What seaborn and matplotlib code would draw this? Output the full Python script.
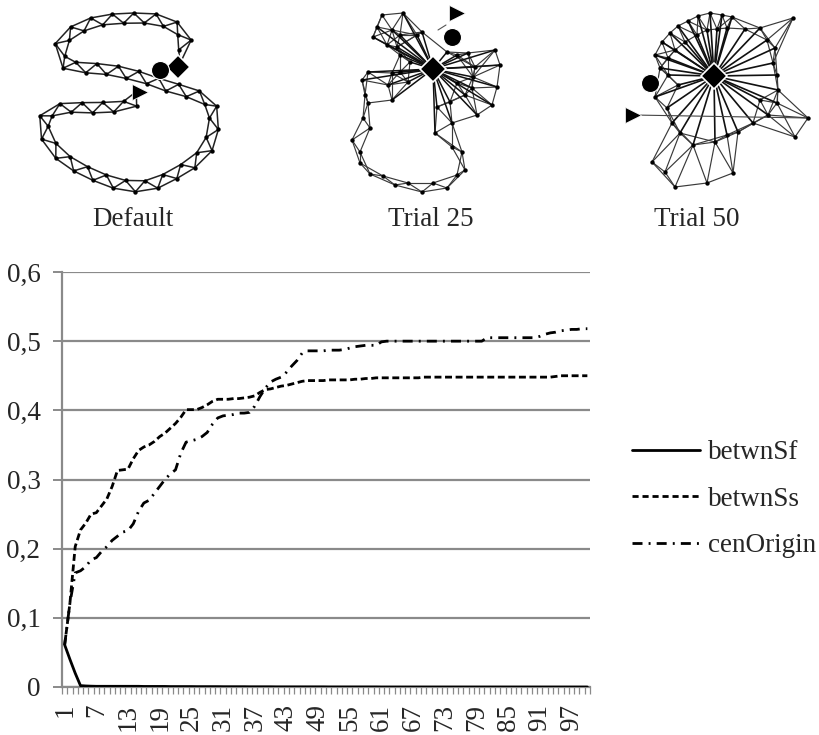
import numpy as np
import pandas as pd
import matplotlib
matplotlib.use("Agg")
import matplotlib.pyplot as plt
import seaborn as sns
from matplotlib.lines import Line2D

# ---------------- chart data ----------------
trials = list(range(1, 101))

betwnSf = [
    0.061, 0.040, 0.020, 0.002, 0.0015, 0.0012, 0.001, 0.001, 0.001, 0.001,
    0.001, 0.001, 0.001, 0.001, 0.001, 0.0008, 0.0008, 0.0008, 0.0008, 0.0008,
    0.0006, 0.0006, 0.0006, 0.0006, 0.0006, 0.0005, 0.0005, 0.0005, 0.0005, 0.0005,
    0.0004, 0.0004, 0.0004, 0.0004, 0.0004, 0.0003, 0.0003, 0.0003, 0.0003, 0.0003,
    0.0002, 0.0002, 0.0002, 0.0002, 0.0002, 0.0002, 0.0002, 0.0002, 0.0002, 0.0002,
    0.0001, 0.0001, 0.0001, 0.0001, 0.0001, 0.0001, 0.0001, 0.0001, 0.0001, 0.0001,
    0.0, 0.0, 0.0, 0.0, 0.0, 0.0, 0.0, 0.0, 0.0, 0.0,
    0.0, 0.0, 0.0, 0.0, 0.0, 0.0, 0.0, 0.0, 0.0, 0.0,
    0.0, 0.0, 0.0, 0.0, 0.0, 0.0, 0.0, 0.0, 0.0, 0.0,
    0.0, 0.0, 0.0, 0.0, 0.0, 0.0, 0.0, 0.0, 0.0, 0.0,
]

betwnSs = [
    0.061, 0.121, 0.203, 0.227, 0.237, 0.250, 0.252, 0.262, 0.272, 0.290,
    0.313, 0.314, 0.315, 0.330, 0.342, 0.347, 0.350, 0.355, 0.362, 0.367,
    0.374, 0.381, 0.390, 0.401, 0.401, 0.401, 0.404, 0.408, 0.413, 0.416,
    0.416, 0.416, 0.417, 0.417, 0.418, 0.419, 0.421, 0.426, 0.430, 0.431,
    0.433, 0.435, 0.436, 0.438, 0.440, 0.442, 0.443, 0.443, 0.443, 0.443,
    0.444, 0.444, 0.444, 0.444, 0.444, 0.445, 0.445, 0.446, 0.446, 0.447,
    0.447, 0.447, 0.447, 0.447, 0.447, 0.447, 0.447, 0.447, 0.448, 0.448,
    0.448, 0.448, 0.448, 0.448, 0.448, 0.448, 0.448, 0.448, 0.448, 0.448,
    0.448, 0.448, 0.448, 0.448, 0.448, 0.448, 0.448, 0.448, 0.448, 0.448,
    0.448, 0.448, 0.448, 0.449, 0.450, 0.450, 0.450, 0.450, 0.450, 0.450,
]

cenOrigin = [
    0.061, 0.121, 0.165, 0.168, 0.174, 0.184, 0.187, 0.196, 0.203, 0.212,
    0.218, 0.224, 0.226, 0.236, 0.254, 0.266, 0.270, 0.280, 0.290, 0.300,
    0.308, 0.314, 0.338, 0.354, 0.356, 0.358, 0.362, 0.368, 0.380, 0.389,
    0.392, 0.393, 0.394, 0.396, 0.396, 0.397, 0.406, 0.420, 0.432, 0.441,
    0.445, 0.448, 0.455, 0.464, 0.472, 0.483, 0.486, 0.486, 0.486, 0.486,
    0.487, 0.487, 0.487, 0.488, 0.490, 0.492, 0.493, 0.494, 0.494, 0.494,
    0.499, 0.500, 0.500, 0.500, 0.500, 0.500, 0.500, 0.500, 0.500, 0.500,
    0.500, 0.500, 0.500, 0.500, 0.500, 0.500, 0.500, 0.500, 0.500, 0.500,
    0.505, 0.505, 0.505, 0.505, 0.505, 0.505, 0.505, 0.505, 0.505, 0.505,
    0.507, 0.510, 0.512, 0.513, 0.515, 0.516, 0.517, 0.517, 0.518, 0.518,
]

series_names = ["betwnSf", "betwnSs", "cenOrigin"]
y_ticks = [0.0, 0.1, 0.2, 0.3, 0.4, 0.5, 0.6]
y_tick_labels = ["0", "0,1", "0,2", "0,3", "0,4", "0,5", "0,6"]
x_tick_values = list(range(1, 101, 6))
x_tick_labels = [str(v) for v in x_tick_values]
panel_titles = ["Default", "Trial 25", "Trial 50"]

# ---------------- network illustration data (pixel coords) ----------------
default_path = [
    (140, 95), (130, 106), (113, 107), (90, 108), (67, 107), (47, 112), (42, 123),
    (47, 140), (57, 153), (73, 165), (93, 175), (113, 183), (133, 187), (153, 185),
    (173, 175), (193, 163), (207, 150), (213, 133), (215, 113), (207, 100), (192, 93),
    (173, 88), (157, 83), (152, 80), (133, 75), (113, 70), (90, 68), (70, 67),
    (60, 60), (59, 47), (67, 35), (80, 27), (100, 20), (127, 18), (152, 18),
    (170, 23), (182, 32), (187, 43), (182, 55), (173, 63),
]
default_diamond = (178, 67)
default_circle = (160, 70)
default_triangle = (140, 92)

t25_nodes = [
    (382, 15), (403, 13), (377, 27), (373, 37), (392, 30), (400, 35), (417, 35),
    (422, 32), (397, 47), (400, 55), (410, 62), (387, 45),
    (368, 72), (362, 80), (392, 73), (400, 72), (408, 82), (365, 95), (388, 85),
    (392, 100), (368, 103),
    (447, 52), (457, 55), (468, 53), (495, 50), (500, 65), (475, 67), (473, 77),
    (497, 87), (472, 88), (492, 105), (477, 115), (465, 95), (450, 102), (437, 107),
    (452, 123), (457, 83),
    (435, 133), (452, 147), (462, 152), (465, 170), (457, 175), (447, 188),
    (433, 183), (422, 192), (408, 183), (395, 185), (383, 176), (370, 174),
    (360, 163), (360, 152), (352, 140), (370, 128), (363, 118),
]
t25_hub = (433, 69)
t25_circle = (452, 37)
t25_triangle = (457, 13)

t50_nodes = [
    (655, 55), (662, 42), (670, 33), (678, 26), (688, 21), (698, 16), (710, 13),
    (722, 15), (732, 17),
    (675, 50), (685, 42), (697, 35), (707, 30), (717, 29), (727, 28), (668, 58),
    (660, 68), (668, 75), (678, 85),
    (745, 29), (760, 28), (793, 18), (767, 40), (775, 48), (773, 63), (777, 75),
    (778, 90), (777, 103), (768, 115), (753, 123), (808, 118), (795, 137), (760, 100),
    (672, 123), (680, 133), (693, 145), (715, 142), (727, 135), (738, 132),
    (652, 162), (665, 172), (675, 187), (707, 183), (733, 173),
    (655, 97), (667, 108),
]
t50_hub = (714, 76)
t50_circle = (650, 83)
t50_triangle = (633, 115)

# ---------------- styling ----------------
sns.set_theme(style="white")
plt.rcParams["font.family"] = ["Liberation Serif", "DejaVu Serif"]
FS = 19.5
GRID = "#8a8a8a"

fig = plt.figure(figsize=(8.2, 7.35), dpi=100)

# ---------------- line chart ----------------
ax = fig.add_axes([62 / 820, 48 / 735, 528 / 820, 415 / 735])
df = pd.DataFrame({"trial": trials, "betwnSf": betwnSf,
                   "betwnSs": betwnSs, "cenOrigin": cenOrigin})
long = df.melt(id_vars="trial", var_name="series", value_name="value")
dash_map = {"betwnSf": "", "betwnSs": (2.5, 1.3), "cenOrigin": (3.6, 2.2, 0.7, 2.2)}
sns.lineplot(data=long, x="trial", y="value", style="series",
             style_order=series_names, dashes=dash_map, color="black",
             linewidth=2.0, estimator=None, legend=False, ax=ax, zorder=3)

ax.set_xlim(0.5, 100.5)
ax.set_ylim(0, 0.6)
ax.set_xlabel("")
ax.set_ylabel("")
ax.set_yticks(y_ticks)
ax.set_yticklabels(y_tick_labels, fontsize=FS)
ax.set_xticks(x_tick_values)
ax.set_xticklabels(x_tick_labels, fontsize=FS, rotation=90)
ax.set_xticks(np.arange(0.5, 101, 1), minor=True)
ax.yaxis.grid(True, color=GRID, linewidth=1.6)
ax.xaxis.grid(False)
ax.set_axisbelow(True)
for s in ["top", "right"]:
    ax.spines[s].set_visible(False)
for s in ["left", "bottom"]:
    ax.spines[s].set_color(GRID)
    ax.spines[s].set_linewidth(1.6)
ax.tick_params(axis="y", left=True, length=6.5, width=1.4, color=GRID, pad=9)
ax.tick_params(axis="x", which="major", bottom=True, length=0, pad=12)
ax.tick_params(axis="x", which="minor", bottom=True, length=5, width=0.9, color=GRID)
ax.patch.set_alpha(0)

handles = [Line2D([], [], color="black", lw=2.0, linestyle=ls)
           for ls in ["-", (0, (2.2, 1.4)), (0, (3.6, 2.2, 0.7, 2.2))]]
fig.legend(handles, series_names, loc="upper left",
           bbox_to_anchor=(632 / 820, 1 - 440 / 735), frameon=False,
           borderpad=0, borderaxespad=0, handlelength=2.5, handletextpad=0.3,
           labelspacing=0.8, fontsize=FS)

# ---------------- network illustrations ----------------
axn = fig.add_axes([0, 0, 1, 1], zorder=-1)
axn.set_xlim(0, 820)
axn.set_ylim(735, 0)
axn.axis("off")


def strip_nodes(path, step, half):
    P = np.array(path, float)
    seg = np.diff(P, axis=0)
    L = np.hypot(seg[:, 0], seg[:, 1])
    cum = np.concatenate([[0], np.cumsum(L)])
    out = []
    for k, s in enumerate(np.arange(0, cum[-1], step)):
        i = min(np.searchsorted(cum, s, side="right") - 1, len(L) - 1)
        t = (s - cum[i]) / L[i]
        d = seg[i] / L[i]
        n = np.array([-d[1], d[0]])
        out.append(P[i] + t * seg[i] + (1 if k % 2 == 0 else -1) * half * n)
    return np.array(out)


def draw_edges(a, pts, pairs, color="#333333", lw=0.9):
    for i, j in pairs:
        a.plot([pts[i][0], pts[j][0]], [pts[i][1], pts[j][1]],
               color=color, lw=lw, solid_capstyle="round", zorder=1)


def knn_pairs(pts, k):
    pts = np.asarray(pts, float)
    pairs = set()
    for i in range(len(pts)):
        d = np.hypot(*(pts - pts[i]).T)
        for j in np.argsort(d)[1:k + 1]:
            pairs.add(tuple(sorted((i, int(j)))))
    return sorted(pairs)


def draw_nodes(a, pts):
    pts = np.asarray(pts)
    a.scatter(pts[:, 0], pts[:, 1], s=10, color="black", zorder=3, linewidths=0)


def draw_markers(a, diamond, circle, triangle, dsize=12, csize=12):
    a.plot(*diamond, marker="D", ms=dsize, color="black", mec="white", mew=1.2, zorder=5)
    a.plot(*circle, marker="o", ms=csize, color="black", mec="white", mew=0.8, zorder=5)
    a.plot(*triangle, marker=">", ms=12, color="black", mec="white", mew=0.5, zorder=5)


# Default
dn = strip_nodes(default_path, 10.5, 5.0)
pairs = [(i, i + 1) for i in range(len(dn) - 1)] + [(i, i + 2) for i in range(len(dn) - 2)]
draw_edges(axn, dn, pairs, color="#222222", lw=1.1)
draw_nodes(axn, dn)
draw_markers(axn, default_diamond, default_circle, default_triangle, dsize=12, csize=13)

# Trial 25
n25 = np.array(t25_nodes, float)
draw_edges(axn, n25, knn_pairs(n25, 4), color="#3a3a3a", lw=0.85)
for p in n25:
    if np.hypot(*(p - np.array(t25_hub))) < 72:
        axn.plot([t25_hub[0], p[0]], [t25_hub[1], p[1]], color="#111111", lw=1.1, zorder=2)
axn.plot([t25_circle[0] - 6, 438], [t25_circle[1] - 12, 30], color="#555555", lw=0.8)
draw_nodes(axn, n25)
draw_markers(axn, t25_hub, t25_circle, t25_triangle, dsize=13, csize=13)

# Trial 50
n50 = np.array(t50_nodes, float)
draw_edges(axn, n50, knn_pairs(n50, 4), color="#3a3a3a", lw=0.85)
for p in n50:
    if np.hypot(*(p - np.array(t50_hub))) < 80:
        axn.plot([t50_hub[0], p[0]], [t50_hub[1], p[1]], color="#111111", lw=1.2, zorder=2)
axn.plot([t50_triangle[0], 808], [t50_triangle[1], 118], color="#444444", lw=0.8)
draw_nodes(axn, n50)
draw_markers(axn, t50_hub, t50_circle, t50_triangle, dsize=13, csize=13)

# panel captions
for title, xc in zip(panel_titles, [133, 431, 697]):
    fig.text(xc / 820, 1 - 219 / 735, title, ha="center", va="center", fontsize=FS)

fig.savefig("out.png", dpi=100)
